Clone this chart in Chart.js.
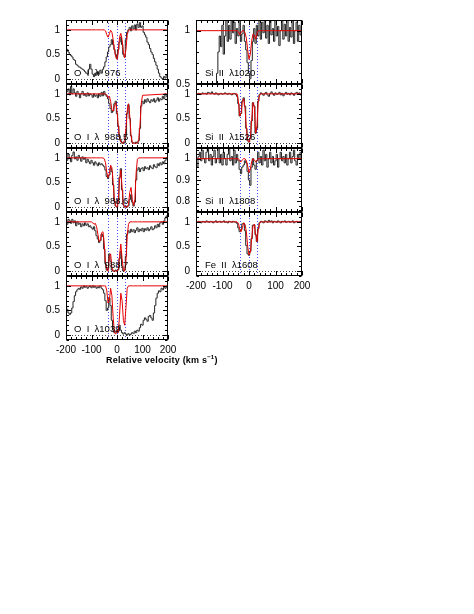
<!DOCTYPE html>
<html><head><meta charset="utf-8">
<script src="https://cdn.jsdelivr.net/npm/chart.js@4.4.0/dist/chart.umd.min.js"></script>
<style>
html,body{margin:0;padding:0;background:#fff;}
body{width:474px;height:614px;position:relative;overflow:hidden;}
canvas{position:absolute;}
.lab{position:absolute;font-family:'Liberation Sans',sans-serif;font-size:9.5px;white-space:pre;color:#000;line-height:10px;}
.xtitle{position:absolute;font-family:'Liberation Sans',sans-serif;font-weight:bold;font-size:9px;letter-spacing:0.2px;white-space:pre;color:#000;}
.xtitle sup{font-size:6px;vertical-align:4px;line-height:0;}
</style></head><body>
<script>
// ---- data ----
const velocity = [-200,-195,-190,-185,-180,-175,-170,-165,-160,-155,-150,-145,-140,-135,-130,-125,-120,-115,-110,-105,-100,-95,-90,-85,-80,-75,-70,-65,-60,-55,-50,-45,-40,-35,-30,-25,-20,-15,-10,-5,0,5,10,15,20,25,30,35,40,45,50,55,60,65,70,75,80,85,90,95,100,105,110,115,120,125,130,135,140,145,150,155,160,165,170,175,180,185,190,195,200];
const modelVelocity = [-200,-100,-95,-90,-85,-80,-75,-70,-65,-60,-55,-50,-45,-40,-35,-30,-25,-20,-15,-10,-5,0,5,10,15,20,25,30,35,40,45,50,55,60,65,70,75,80,85,90,95,100,200];
const componentVelocities = [-35, 0, 30];
const xTickLabels = [-200, -100, 0, 100, 200];

const oi976Flux = [0.64,0.6,0.55,0.5,0.48,0.45,0.4,0.38,0.3,0.28, 0.25,0.24,0.22,0.2,0.18,0.15,0.12,0.1,0.2,0.3, 0.2,0.1,0.05,0.12,0.08,0.15,0.1,0.18,0.12,0.2, 0.25,0.35,0.45,0.55,0.65,0.7,0.8,0.7,0.6,0.5, 0.42,0.6,0.75,0.85,0.7,0.5,0.45,0.8,0.95,1.0, 1.05,0.98,1.08,1.02,1.1,1.0,1.12,1.05,1.15,1.05, 1.08,0.95,0.9,0.85,0.75,0.7,0.62,0.55,0.5,0.42, 0.35,0.28,0.2,0.12,0.05,0.02,0.0,0.05,0.02,0.08, 0.1];
const oi976Model = [1, 1,1,1,1,1,1,1,1,1,1,1, 0.98,0.9,0.85,0.92,0.99,0.95,0.8,0.6,0.45, 0.4,0.55,0.85,0.93,0.8,0.55,0.43,0.6,0.9,0.99, 1,1,1,1,1,1,1,1,1,1,1, 1];

const oi9885Flux = [0.93,1.05,1.1,0.98,1.15,1.0,1.1,1.02,0.95,1.05, 1.0,0.92,1.0,1.05,0.97,1.0,0.95,1.02,0.96,1.0, 0.98,0.93,1.0,0.95,0.98,0.92,1.0,0.95,1.03,0.96, 1.05,0.98,0.95,0.9,0.8,0.7,0.62,0.65,0.8,0.85, 0.6,0.35,0.15,0.05,0.0,0.02,0.0,0.15,0.6,0.78, 0.5,0.15,0.02,0.0,0.0,0.02,0.0,0.05,0.3,0.75, 0.85,0.8,0.88,0.83,0.9,0.85,0.82,0.88,0.85,0.9, 0.83,0.87,0.92,0.85,0.9,0.88,0.95,0.9,1.0,0.95, 0.85];
const oi9885Model = [1, 1,1,1,1,1,1,1,1,1,1,1, 1,0.98,0.92,0.95,0.85,0.68,0.65,0.75,0.82, 0.65,0.35,0.1,0.02,0,0,0.05,0.3,0.65,0.8, 0.55,0.15,0,0,0,0,0,0.05,0.35,0.8,0.97, 1];

const oi9886Flux = [1.0,0.95,1.08,1.0,0.92,1.05,1.12,0.98,1.02,0.95, 1.05,1.0,0.93,1.02,0.97,1.0,0.9,0.97,0.92,0.88, 0.95,0.9,0.85,0.92,0.88,0.84,0.9,0.86,0.88,0.85, 0.82,0.75,0.62,0.58,0.65,0.8,0.72,0.45,0.12,0.02, 0.0,0.15,0.6,0.78,0.35,0.05,0.0,0.02,0.0,0.03, 0.15,0.25,0.1,0.02,0.1,0.55,0.75,0.8,0.72,0.78, 0.8,0.74,0.82,0.78,0.8,0.76,0.84,0.8,0.78,0.86, 0.82,0.8,0.88,0.84,0.9,0.86,0.92,0.88,0.95,1.0, 1.02];
const oi9886Model = [1, 1,1,1,1,1,1,1,1,1,1,0.98, 0.9,0.7,0.6,0.68,0.85,0.8,0.5,0.15,0.02, 0,0.1,0.55,0.75,0.4,0.05,0,0,0,0.05, 0.3,0.4,0.15,0.03,0.15,0.7,0.97,1,1,1,1, 1];

const oi9887Flux = [1.0,0.95,1.05,1.02,0.97,1.05,0.98,1.02,0.92,1.0, 0.95,0.97,0.9,0.96,0.92,0.98,0.93,0.96,0.9,0.92, 0.88,0.85,0.9,0.82,0.72,0.65,0.58,0.62,0.75,0.7, 0.45,0.15,0.02,0.05,0.35,0.2,0.02,0.0,0.0,0.02, 0.0,0.03,0.25,0.4,0.1,0.0,0.02,0.3,0.75,0.82, 0.78,0.85,0.8,0.84,0.78,0.83,0.88,0.8,0.85,0.82, 0.87,0.8,0.86,0.83,0.88,0.82,0.85,0.9,0.84,0.86, 0.92,0.88,0.95,0.9,0.98,1.0,0.95,1.02,1.08,1.12, 1.05];
const oi9887Model = [1, 1,0.98,0.95,0.97,0.9,0.75,0.6,0.62,0.78,0.8,0.55, 0.15,0.02,0,0.3,0.35,0.08,0,0,0, 0,0.02,0.3,0.55,0.25,0.02,0,0.2,0.7,0.95, 1,1,1,1,1,1,1,1,1,1,1, 1];

const oi1039Flux = [0.58,0.52,0.45,0.42,0.45,0.55,0.68,0.8,0.88,0.92, 0.95,0.93,0.98,0.95,1.0,0.97,0.99,0.95,0.98,1.0, 0.96,1.0,0.97,0.99,0.95,0.98,0.96,1.0,0.95,0.92, 0.85,0.7,0.5,0.55,0.75,0.6,0.3,0.1,0.05,0.08, 0.05,0.12,0.2,0.1,0.05,0.02,0.05,0.02,0.0,0.03, 0.0,0.02,0.05,0.03,0.08,0.05,0.1,0.08,0.15,0.22, 0.2,0.3,0.35,0.32,0.28,0.38,0.4,0.35,0.3,0.45, 0.6,0.75,0.85,0.9,0.88,0.95,0.92,0.97,0.95,0.98, 0.94];
const oi1039Model = [1, 1,1,1,1,1,1,1,1,1,1,1, 1,0.9,0.65,0.7,0.95,0.8,0.35,0.05,0.02, 0.1,0.05,0.4,0.85,0.7,0.3,0.2,0.55,0.95,1, 1,1,1,1,1,1,1,1,1,1,1, 1];

const si1020Flux = [0.2,0.25,0.2,0.3,0.25,0.2,0.3,0.25,0.2,0.3, 0.25,0.2,0.3,0.25,0.35,0.45,0.6,0.8,0.95,0.85, 1.05,0.78,0.95,1.12,0.9,1.05,0.92,1.15,0.98,1.08, 0.88,1.02,0.95,1.1,0.9,0.97,1.05,0.9,0.82,0.7, 0.6,0.55,0.72,0.9,1.02,0.88,1.05,0.95,1.12,0.92, 1.08,0.98,1.15,0.93,1.05,0.88,1.1,0.96,1.02,0.9, 1.12,0.95,1.04,0.86,1.0,1.1,0.92,1.06,0.95,1.15, 0.9,1.03,0.94,1.12,0.88,1.0,1.08,0.9,1.05,0.96, 1.1];
const si1020Model = [1, 1,1,1,1,1,1,1,1,1,1,1, 1,0.99,0.96,0.98,1,1,0.98,0.93,0.82, 0.73,0.78,0.9,0.97,0.96,0.92,0.97,1,1,1, 1,1,1,1,1,1,1,1,1,1,1, 1];

const si1526Flux = [1.0,0.99,1.01,1.0,0.99,1.02,1.0,1.01,0.99,1.03, 1.02,1.0,1.04,1.01,0.99,1.02,1.0,0.98,1.0,1.01, 0.99,1.0,1.02,1.0,0.99,1.01,1.0,0.98,1.0,1.01, 0.99,0.95,0.8,0.55,0.6,0.85,0.92,0.75,0.3,0.05, 0.02,0.1,0.45,0.82,0.75,0.2,0.3,0.85,0.98,1.02, 1.0,0.97,1.01,1.03,0.98,0.95,1.0,1.04,1.0,0.97, 1.02,0.99,1.0,1.03,0.98,1.01,0.96,1.0,1.03,0.99, 1.01,0.98,1.02,1.0,0.97,1.01,1.03,0.99,1.02,0.98, 1.0];
const si1526Model = [1, 1,1,1,1,1,1,1,1,1,1,1, 1,0.85,0.55,0.6,0.85,0.9,0.7,0.3,0.05, 0.02,0.1,0.45,0.82,0.75,0.2,0.35,0.85,0.98,1, 1,1,1,1,1,1,1,1,1,1,1, 1];

const si1808Flux = [0.97,0.96,1.01,1.03,0.99,1.04,1.0,0.98,1.03,1.06, 0.99,1.02,0.97,1.01,1.04,0.98,1.0,1.05,0.98,1.02, 0.97,1.03,1.0,0.97,1.02,1.05,0.99,1.01,0.97,1.04, 0.98,1.02,0.99,0.95,0.93,0.96,0.97,0.99,0.98,0.94, 0.9,0.875,0.96,1.0,0.97,0.95,0.99,1.03,0.98,1.01, 0.97,1.04,0.99,1.02,0.96,1.0,1.03,0.98,1.01,0.97, 0.99,1.02,0.96,1.0,1.03,0.99,1.01,0.98,1.02,0.97, 1.0,1.03,0.98,1.01,1.04,0.99,0.97,1.02,1.0,1.03, 0.98];
const si1808Model = [1, 1,1,1,1,1,1,1,1,1,1,1, 1,1,0.99,0.985,0.995,1,1,0.99,0.965, 0.935,0.95,0.985,1,0.995,0.985,0.99,1,1,1, 1,1,1,1,1,1,1,1,1,1,1, 1];

const fe1608Flux = [1.0,0.99,1.01,1.0,0.98,1.01,1.0,0.99,1.02,1.0, 0.99,1.01,1.0,0.98,1.0,1.02,0.99,1.0,1.01,0.99, 1.0,1.02,0.99,1.0,0.98,1.01,1.0,0.99,1.01,1.0, 0.99,0.97,0.88,0.8,0.84,0.96,0.97,0.82,0.52,0.35, 0.32,0.4,0.66,0.93,0.94,0.74,0.6,0.86,0.98,1.01, 1.0,0.98,1.02,1.01,0.99,1.03,1.0,1.02,0.98,1.01, 1.0,0.99,1.02,1.0,0.98,1.01,1.0,1.02,0.99,1.0, 1.01,0.99,1.0,1.02,0.98,1.0,1.01,0.99,1.0,1.01, 1.0];
const fe1608Model = [1, 1,1,1,1,1,1,1,1,1,1,1, 1,0.97,0.85,0.8,0.88,0.98,0.95,0.8,0.5, 0.33,0.38,0.65,0.92,0.95,0.75,0.6,0.85,0.98,1, 1,1,1,1,1,1,1,1,1,1,1, 1];

const panelLabels = ['O  I  λ  976','O  I  λ  988.5','O  I  λ  988.6','O  I  λ  988.7','O  I  λ1039','Si  II  λ1020','Si  II  λ1526','Si  II  λ1808','Fe  II  λ1608'];

// ---- layout ----
const colLeft = [66, 196], colWidth = [102, 106];
const rowTop0 = 20, rowH = 64;
const ML = 36, MT = 6, MR = 8, MB = 6, XAX = 22;

const panels = [
  {flux: oi976Flux,  model: oi976Model,  col:0,row:0, yMin:-0.1,yMax:1.2, yLab:[0,0.5,1], yMinorStep:0.1, zero:true},
  {flux: oi9885Flux, model: oi9885Model, col:0,row:1, yMin:-0.1,yMax:1.2, yLab:[0,0.5,1], yMinorStep:0.1, zero:true},
  {flux: oi9886Flux, model: oi9886Model, col:0,row:2, yMin:-0.1,yMax:1.2, yLab:[0,0.5,1], yMinorStep:0.1, zero:true},
  {flux: oi9887Flux, model: oi9887Model, col:0,row:3, yMin:-0.1,yMax:1.2, yLab:[0,0.5,1], yMinorStep:0.1, zero:true},
  {flux: oi1039Flux, model: oi1039Model, col:0,row:4, yMin:-0.1,yMax:1.2, yLab:[0,0.5,1], yMinorStep:0.1, zero:true, bottom:true},
  {flux: si1020Flux, model: si1020Model, col:1,row:0, yMin:0.5,yMax:1.1, yLab:[0.5,1], yMinorStep:0.1, zero:false},
  {flux: si1526Flux, model: si1526Model, col:1,row:1, yMin:-0.1,yMax:1.2, yLab:[0,0.5,1], yMinorStep:0.1, zero:true},
  {flux: si1808Flux, model: si1808Model, col:1,row:2, yMin:0.75,yMax:1.05, yLab:[0.8,0.9,1], yMinorStep:0.02, zero:false},
  {flux: fe1608Flux, model: fe1608Model, col:1,row:3, yMin:-0.1,yMax:1.2, yLab:[0,0.5,1], yMinorStep:0.1, zero:true, bottom:true}
];

const framePlugin = {
  id: 'frame',
  beforeDatasetsDraw(chart) {
    const o = chart.options.plugins.frame;
    const {ctx, chartArea: a, scales: {x, y}} = chart;
    ctx.save();
    ctx.lineWidth = 1;
    ctx.setLineDash([1, 2]);
    if (o.zero) {
      const yy = Math.round(y.getPixelForValue(0)) + 0.5;
      ctx.strokeStyle = '#444';
      ctx.beginPath(); ctx.moveTo(a.left, yy); ctx.lineTo(a.right, yy); ctx.stroke();
    }
    ctx.strokeStyle = '#4a4aff';
    componentVelocities.forEach(v => {
      const xx = Math.round(x.getPixelForValue(v)) + 0.5;
      ctx.beginPath(); ctx.moveTo(xx, a.top); ctx.lineTo(xx, a.bottom); ctx.stroke();
    });
    ctx.restore();
  },
  afterDraw(chart) {
    const o = chart.options.plugins.frame;
    const {ctx, chartArea: a, scales: {x, y}} = chart;
    ctx.save();
    ctx.strokeStyle = '#000';
    ctx.lineWidth = 1;
    const L = Math.round(a.left) + 0.5, R = Math.round(a.right) - 0.5;
    const T = Math.round(a.top) + 0.5, B = Math.round(a.bottom) - 0.5;
    ctx.strokeRect(L, T, R - L, B - T);
    ctx.beginPath();
    for (let v = -200; v <= 200; v += 20) {
      const xx = Math.round(x.getPixelForValue(v)) + 0.5;
      const len = (v % 100 === 0) ? 4.5 : 2.5;
      ctx.moveTo(xx, B); ctx.lineTo(xx, B - len);
      ctx.moveTo(xx, T); ctx.lineTo(xx, T + len);
    }
    const first = Math.ceil(o.yMin / o.yMinorStep - 1e-6);
    for (let k = first; k * o.yMinorStep <= o.yMax + 1e-9; k++) {
      const v = k * o.yMinorStep;
      const major = o.yLab.some(t => Math.abs(t - v) < 1e-6);
      const yy = Math.round(y.getPixelForValue(v)) + 0.5;
      const len = major ? 4.5 : 2.5;
      ctx.moveTo(L, yy); ctx.lineTo(L + len, yy);
      ctx.moveTo(R, yy); ctx.lineTo(R - len, yy);
    }
    ctx.stroke();
    ctx.restore();
  }
};

const tickFont = {family: "'Liberation Sans', sans-serif", size: 10};

panels.forEach((p, i) => {
  const bx = colLeft[p.col], bw = colWidth[p.col];
  const by = rowTop0 + rowH * p.row;
  const cw = ML + bw + MR;
  const ch = MT + rowH + (p.bottom ? XAX : MB);
  const cv = document.createElement('canvas');
  cv.width = cw; cv.height = ch;
  cv.style.left = (bx - ML) + 'px';
  cv.style.top = (by - MT) + 'px';
  cv.style.width = cw + 'px'; cv.style.height = ch + 'px';
  document.body.appendChild(cv);

  new Chart(cv, {
    type: 'line',
    data: {
      datasets: [
        {data: modelVelocity.map((v, k) => ({x: v, y: p.model[k]})), borderColor: '#e60000', borderWidth: 1, pointRadius: 0, tension: 0, order: 0},
        {data: velocity.map((v, k) => ({x: v, y: p.flux[k]})), borderColor: '#222222', borderWidth: 1, pointRadius: 0, stepped: 'middle', order: 1}
      ]
    },
    options: {
      responsive: false, animation: false, devicePixelRatio: 1,
      events: [],
      layout: {padding: {left: 0, top: MT, right: MR, bottom: p.bottom ? 0 : MB}},
      plugins: {legend: {display: false}, tooltip: {enabled: false},
        frame: {zero: p.zero, yMin: p.yMin, yMax: p.yMax, yLab: p.yLab, yMinorStep: p.yMinorStep}},
      scales: {
        x: {type: 'linear', min: -200, max: 200,
          grid: {display: false, drawTicks: false}, border: {display: false},
          ticks: {display: !!p.bottom, font: tickFont, color: '#000', padding: 4, maxRotation: 0},
          afterBuildTicks: s => { s.ticks = xTickLabels.map(v => ({value: v})); },
          afterFit: s => { s.height = p.bottom ? XAX : 0; s.paddingLeft = 0; s.paddingRight = 0; }},
        y: {type: 'linear', min: p.yMin, max: p.yMax,
          grid: {display: false, drawTicks: false}, border: {display: false},
          ticks: {font: tickFont, color: '#000', padding: 6, callback: v => String(v)},
          afterBuildTicks: s => { s.ticks = p.yLab.map(v => ({value: v})); },
          afterFit: s => { s.width = ML; s.paddingTop = 0; s.paddingBottom = 0; }}
      }
    },
    plugins: [framePlugin]
  });

  const lab = document.createElement('div');
  lab.className = 'lab';
  lab.textContent = panelLabels[i];
  lab.style.left = (bx + (p.col === 0 ? 8 : 9)) + 'px';
  lab.style.top = (by + rowH - 16) + 'px';
  document.body.appendChild(lab);
});

const xt = document.createElement('div');
xt.className = 'xtitle';
xt.innerHTML = 'Relative velocity (km s<sup>−1</sup>)';
xt.style.left = '106px';
xt.style.top = '355px';
document.body.appendChild(xt);
</script>
</body></html>
